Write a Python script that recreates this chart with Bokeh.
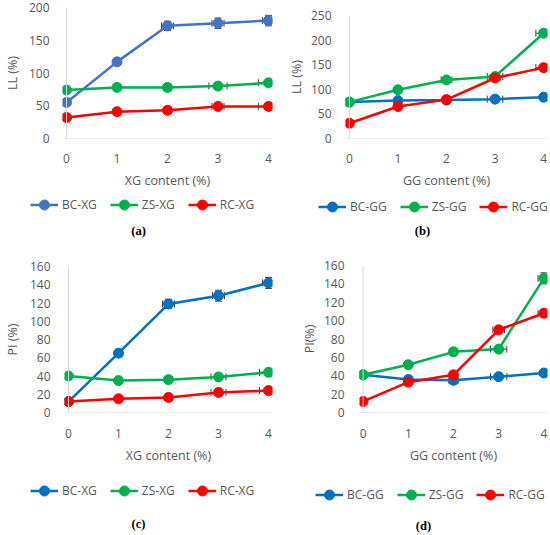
import numpy as np
from bokeh.plotting import figure
from bokeh.models import (Range1d, Span, Whisker, ColumnDataSource, Legend,
                          LegendItem, Label, TeeHead)
from bokeh.layouts import column, row
from bokeh.embed import file_html
from bokeh.resources import INLINE

# ---------------- data ----------------
content = [0, 1, 2, 3, 4]

# (a) LL vs XG content
ll_bc_xg = [55, 117, 172, 176, 180]
ll_zs_xg = [74, 78, 78, 80, 85]
ll_rc_xg = [32, 41, 43, 49, 49]
ll_bc_xg_yerr = [0, 4, 7, 8, 8]
ll_zs_xg_yerr = [0, 0, 0, 0, 0]
ll_rc_xg_yerr = [0, 0, 0, 0, 0]
ll_bc_xg_xerr = [0, 0.05, 0.12, 0.12, 0.12]
ll_zs_xg_xerr = [0, 0, 0.08, 0.18, 0.2]
ll_rc_xg_xerr = [0, 0, 0.08, 0.12, 0.2]

# (b) LL vs GG content
ll_bc_gg = [74, 77, 78, 80, 84]
ll_zs_gg = [74, 99, 119, 126, 214]
ll_rc_gg = [31, 65, 79, 123, 144]
ll_bc_gg_yerr = [0, 0, 0, 0, 0]
ll_zs_gg_yerr = [0, 0, 3, 3, 6]
ll_rc_gg_yerr = [0, 0, 0, 0, 4]
ll_bc_gg_xerr = [0, 0, 0.05, 0.16, 0]
ll_zs_gg_xerr = [0, 0, 0.11, 0.16, 0.16]
ll_rc_gg_xerr = [0, 0, 0, 0.12, 0.16]

# (c) PI vs XG content
pi_bc_xg = [12, 65, 119, 128, 142]
pi_zs_xg = [40, 35, 36, 39, 44]
pi_rc_xg = [12, 15, 16.5, 22, 24]
pi_bc_xg_yerr = [0, 2, 5, 6, 6]
pi_zs_xg_yerr = [0, 0, 0, 0, 0]
pi_rc_xg_yerr = [0, 0, 0, 0, 0]
pi_bc_xg_xerr = [0, 0, 0.12, 0.12, 0.12]
pi_zs_xg_xerr = [0, 0, 0.08, 0.15, 0.18]
pi_rc_xg_xerr = [0, 0, 0.08, 0.15, 0.18]

# (d) PI vs GG content
pi_bc_gg = [41, 36, 35, 39, 43]
pi_zs_gg = [41, 52, 66, 69, 146]
pi_rc_gg = [12, 33, 41, 90, 108]
pi_bc_gg_yerr = [0, 0, 0, 0, 0]
pi_zs_gg_yerr = [0, 0, 2, 0, 6]
pi_rc_gg_yerr = [0, 0, 0, 3, 4]
pi_bc_gg_xerr = [0, 0, 0.1, 0.18, 0]
pi_zs_gg_xerr = [0, 0, 0.08, 0.18, 0.13]
pi_rc_gg_xerr = [0, 0, 0.08, 0.13, 0.13]

TXT = "#595959"
FONT = "Open Sans"
ERR = "#404040"
GREEN, RED = "#00B050", "#FF0000"
W = 275
OFF = 10  # legend panels: view starts right of the data so only the key shows


def add_errors(p, x, y, yerr, xerr):
    x = np.asarray(x, float)
    y = np.asarray(y, float)
    yerr = np.asarray(yerr, float)
    xerr = np.asarray(xerr, float)
    m = yerr > 0
    if m.any():
        src = ColumnDataSource(dict(x=x[m], lo=y[m] - yerr[m], hi=y[m] + yerr[m]))
        p.add_layout(Whisker(source=src, base="x", lower="lo", upper="hi",
                             dimension="height", line_color=ERR, line_width=1,
                             upper_head=TeeHead(size=7, line_color=ERR, line_width=1),
                             lower_head=TeeHead(size=7, line_color=ERR, line_width=1)))
    m = xerr > 0
    if m.any():
        src = ColumnDataSource(dict(y=y[m], lo=x[m] - xerr[m], hi=x[m] + xerr[m]))
        p.add_layout(Whisker(source=src, base="y", lower="lo", upper="hi",
                             dimension="width", line_color=ERR, line_width=1,
                             upper_head=TeeHead(size=7, line_color=ERR, line_width=1),
                             lower_head=TeeHead(size=7, line_color=ERR, line_width=1)))


def plot_fig(series, colors, ymax, ystep, ylabel, xlabel, H, left, right, top,
             bottom, ylab_sd, ytitle_sd, xlab_sd, xtitle_sd):
    p = figure(width=W, height=H, output_backend="svg", toolbar_location=None,
               x_range=Range1d(-0.08, 4.08), y_range=Range1d(0, ymax),
               min_border_left=left, min_border_right=right, min_border_top=top,
               min_border_bottom=bottom, frame_align=False)
    p.outline_line_color = None
    p.xgrid.visible = False
    p.ygrid.visible = False
    p.add_layout(Span(location=0, dimension="height", line_color="#D9D9D9", line_width=1))
    p.add_layout(Span(location=0, dimension="width", line_color="#D9D9D9", line_width=1))
    for ax in (p.xaxis[0], p.yaxis[0]):
        ax.axis_line_color = None
        ax.major_tick_line_color = None
        ax.minor_tick_line_color = None
        ax.major_label_text_color = TXT
        ax.major_label_text_font = FONT
        ax.major_label_text_font_size = "12px"
        ax.axis_label_text_color = TXT
        ax.axis_label_text_font = FONT
        ax.axis_label_text_font_size = "12.5px"
        ax.axis_label_text_font_style = "normal"
    p.xaxis.ticker = content
    p.yaxis.ticker = list(range(0, ymax + 1, ystep))
    p.xaxis.axis_label = xlabel
    p.yaxis.axis_label = ylabel
    p.yaxis.major_label_standoff = ylab_sd
    p.yaxis.axis_label_standoff = ytitle_sd
    p.xaxis.major_label_standoff = xlab_sd
    p.xaxis.axis_label_standoff = xtitle_sd
    for (name, y, yerr, xerr), c in zip(series, colors):
        p.line(content, y, line_color=c, line_width=2.5)
        p.scatter(content, y, size=10, fill_color=c, line_color=c)
    for (name, y, yerr, xerr) in series:
        add_errors(p, content, y, yerr, xerr)
    return p


def legend_fig(series, colors, caption, L, leg_x, leg_top, cap_x, cap_top):
    q = figure(width=W, height=L, output_backend="svg", toolbar_location=None,
               x_range=Range1d(OFF, OFF + W), y_range=Range1d(0, L),
               min_border_left=0, min_border_right=0, min_border_top=0,
               min_border_bottom=0, x_axis_type=None, y_axis_type=None,
               frame_align=False)
    q.outline_line_color = None
    q.xgrid.visible = False
    q.ygrid.visible = False
    items = []
    for (name, y, yerr, xerr), c in zip(series, colors):
        lr = q.line(content, y, line_color=c, line_width=2.5)
        sr = q.scatter(content, y, size=10, fill_color=c, line_color=c)
        items.append(LegendItem(label=name, renderers=[lr, sr]))
    gh = 25
    leg = Legend(items=items, orientation="horizontal",
                 location=(leg_x, L - leg_top - gh),
                 border_line_color=None, background_fill_alpha=0,
                 label_text_font=FONT, label_text_font_size="12px",
                 label_text_color=TXT, glyph_width=28, glyph_height=gh,
                 label_height=gh, spacing=13, label_standoff=4, padding=0, margin=0)
    q.add_layout(leg, "center")
    q.add_layout(Label(x=OFF + cap_x, y=L - cap_top, text=caption, text_align="center",
                       text_baseline="middle", text_font="Liberation Serif",
                       text_font_style="bold", text_font_size="12.5px",
                       text_color="black"))
    return q


A = [("BC-XG", ll_bc_xg, ll_bc_xg_yerr, ll_bc_xg_xerr),
     ("ZS-XG", ll_zs_xg, ll_zs_xg_yerr, ll_zs_xg_xerr),
     ("RC-XG", ll_rc_xg, ll_rc_xg_yerr, ll_rc_xg_xerr)]
B = [("BC-GG", ll_bc_gg, ll_bc_gg_yerr, ll_bc_gg_xerr),
     ("ZS-GG", ll_zs_gg, ll_zs_gg_yerr, ll_zs_gg_xerr),
     ("RC-GG", ll_rc_gg, ll_rc_gg_yerr, ll_rc_gg_xerr)]
C = [("BC-XG", pi_bc_xg, pi_bc_xg_yerr, pi_bc_xg_xerr),
     ("ZS-XG", pi_zs_xg, pi_zs_xg_yerr, pi_zs_xg_xerr),
     ("RC-XG", pi_rc_xg, pi_rc_xg_yerr, pi_rc_xg_xerr)]
D = [("BC-GG", pi_bc_gg, pi_bc_gg_yerr, pi_bc_gg_xerr),
     ("ZS-GG", pi_zs_gg, pi_zs_gg_yerr, pi_zs_gg_xerr),
     ("RC-GG", pi_rc_gg, pi_rc_gg_yerr, pi_rc_gg_xerr)]

col_a = ["#4472C4", GREEN, RED]
col_b = ["#0070C0", GREEN, RED]

H1, L1, H2, L2 = 191, 65, 210, 68

pa = plot_fig(A, col_a, 200, 50, "LL (%)", "XG content (%)", H1, 50, 3, 7, 48, 7, 5, 9, 6)
pb = plot_fig(B, col_b, 250, 50, "LL (%)", "GG content (%)", H1, 70, 3, 15, 52, 8, 3, 9, 6)
pc = plot_fig(C, col_b, 160, 20, "PI (%)", "XG content (%)", H2, 58, 3, 10, 49, 8, 6, 10, 6)
pd_ = plot_fig(D, col_b, 160, 20, "PI(%)", "GG content (%)", H2, 84, 3, 9, 53, 9, 3, 10, 6)

la = legend_fig(A, col_a, "(a)", L1, 30, 1, 138, 39)
lb = legend_fig(B, col_b, "(b)", L1, 43, 3, 147, 39)
lc = legend_fig(C, col_b, "(c)", L2, 30, 12, 138, 57)
ld = legend_fig(D, col_b, "(d)", L2, 40, 16, 148, 59)

layout = column(row(column(pa, la), column(pb, lb)),
                row(column(pc, lc), column(pd_, ld)))
open("out.html", "w").write(file_html(layout, INLINE))
